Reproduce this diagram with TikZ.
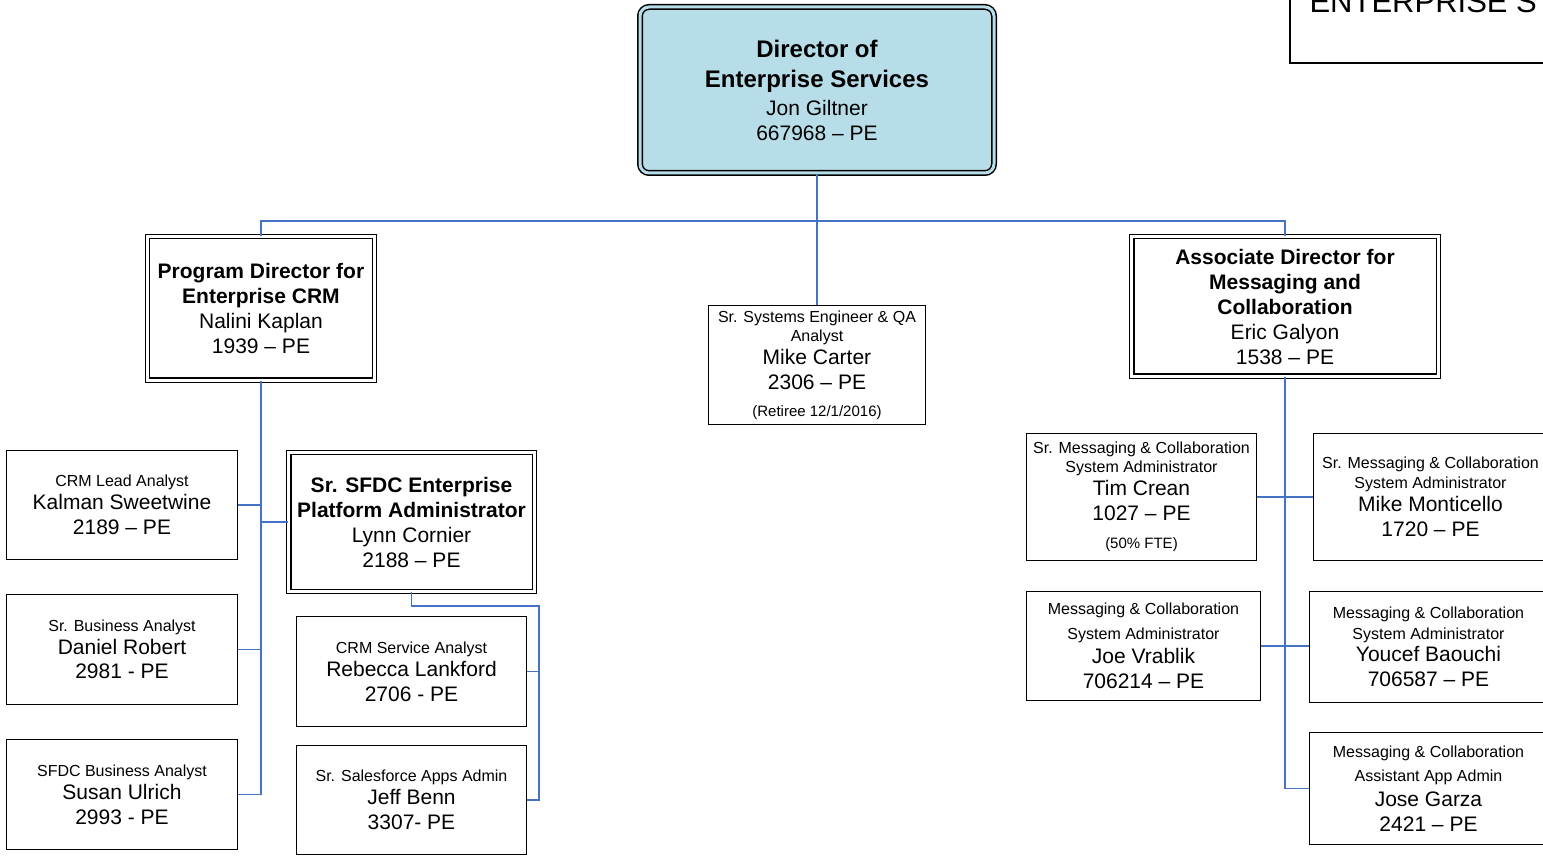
\documentclass[tikz,border=0pt]{standalone}
\usepackage{fontspec}
\setmainfont{Liberation Sans}
\usepackage{tikz}
\definecolor{Kopfblau}{RGB}{183,222,232}
\definecolor{Linienblau}{RGB}{68,114,196}
\newcommand{\Chef}[1]{{\fontsize{24}{29}\selectfont\bfseries #1}}
\newcommand{\Funktion}[1]{{\fontsize{16}{19}\selectfont #1}}
\newcommand{\Klein}[1]{{\fontsize{15}{18}\selectfont #1}}
\tikzstyle{Kasten}= [draw,line width=1.3pt,inner sep=0pt,align=center,font=\fontsize{21}{25}\selectfont]
\tikzstyle{Doppelkasten}= [Kasten,double,line width=1.3pt,double distance=3pt]
\tikzstyle{Linie}= [draw=Linienblau,line width=1.8pt]

\begin{document}
\begin{tikzpicture}[x=1pt,y=-1pt]

		\clip (0,0) rectangle (1543,858);

		% Kopf
		\node [Kasten,line width=1.6pt,minimum width=270pt,minimum height=83pt] (titel) at (1425,21.5) {};
		\node [anchor=base west,font=\fontsize{31}{36}\selectfont] (titeltext) at (1306,13) {ENTERPRISE S};

		\node [Doppelkasten,rounded corners=9pt,fill=Kopfblau,double=Kopfblau,line width=1.5pt,minimum width=354pt,minimum height=166pt] (chef) at (817,90)
		{\Chef{Director of}\\[5pt] \Chef{Enterprise Services}\\[3pt] Jon Giltner\\ 667968 – PE};

		% zweite Ebene
		\node [Doppelkasten,minimum width=227pt,minimum height=143.6pt] (crm) at (261,308.5)
		{\textbf{Program Director for}\\ \textbf{Enterprise CRM}\\ Nalini Kaplan\\ 1939 – PE};
		\node [Kasten,minimum width=216.8pt,minimum height=118.8pt] (carter) at (817,365)
		{\Funktion{Sr. Systems Engineer \& QA}\\[-6pt] \Funktion{Analyst}\\[-2pt] Mike Carter\\ 2306 – PE\\[2pt] \Klein{(Retiree 12/1/2016)}};
		\node [Doppelkasten,minimum width=306.6pt,minimum height=139.6pt] (msg) at (1285,306.5)
		{\textbf{Associate Director for}\\ \textbf{Messaging and}\\ \textbf{Collaboration}\\ Eric Galyon\\ 1538 – PE};

		% CRM
		\node [Kasten,minimum width=230.8pt,minimum height=108.8pt] (kalman) at (122,505)
		{\Funktion{CRM Lead Analyst}\\[-2pt] Kalman Sweetwine\\ 2189 – PE};
		\node [Kasten,minimum width=230.8pt,minimum height=109.8pt] (daniel) at (122,649.5)
		{\Funktion{Sr. Business Analyst}\\[-2pt] Daniel Robert\\[-1pt] 2981 - PE};
		\node [Kasten,minimum width=230.8pt,minimum height=109.8pt] (susan) at (122,794.5)
		{\Funktion{SFDC Business Analyst}\\[-2pt] Susan Ulrich\\ 2993 - PE};
		\node [Doppelkasten,minimum width=245.6pt,minimum height=138.6pt] (lynn) at (411.5,522)
		{\textbf{Sr. SFDC Enterprise}\\ \textbf{Platform Administrator}\\ Lynn Cornier\\ 2188 – PE};
		\node [Kasten,minimum width=229.8pt,minimum height=109.8pt] (rebecca) at (411.5,671.5)
		{\Funktion{CRM Service Analyst}\\[-2pt] Rebecca Lankford\\ 2706 - PE};
		\node [Kasten,minimum width=229.8pt,minimum height=108.8pt] (jeff) at (411.5,800)
		{\Funktion{Sr. Salesforce Apps Admin}\\[-2pt] Jeff Benn\\ 3307- PE};

		% Messaging
		\node [Kasten,minimum width=229.8pt,minimum height=126.8pt] (tim) at (1141.5,497)
		{\Funktion{Sr. Messaging \& Collaboration}\\[-6pt] \Funktion{System Administrator}\\[-2pt] Tim Crean\\ 1027 – PE\\[3pt] \Klein{(50\% FTE)}};
		\node [Kasten,minimum width=233.8pt,minimum height=126.8pt] (monti) at (1430.5,497)
		{\Funktion{Sr. Messaging \& Collaboration}\\[-5pt] \Funktion{System Administrator}\\[-2pt] Mike Monticello\\ 1720 – PE};
		\node [Kasten,minimum width=233.8pt,minimum height=108.8pt] (joe) at (1143.5,646)
		{\Funktion{Messaging \& Collaboration}\\ \Funktion{System Administrator}\\[-1pt] Joe Vrablik\\ 706214 – PE};
		\node [Kasten,minimum width=237.8pt,minimum height=110.8pt] (youcef) at (1428.5,647)
		{\Funktion{Messaging \& Collaboration}\\[-4pt] \Funktion{System Administrator}\\[-3pt] Youcef Baouchi\\ 706587 – PE};
		\node [Kasten,minimum width=237.8pt,minimum height=111.8pt] (jose) at (1428.5,788.5)
		{\Funktion{Messaging \& Collaboration}\\[-1pt] \Funktion{Assistant App Admin}\\ Jose Garza\\ 2421 – PE};

		\coordinate (bus) at (817,221);
		\coordinate (sfdcknick) at (539,606);

		\draw[Linie] (chef.south) -- (carter.north);
		\draw[Linie] (crm.north) |- (bus) -| (msg.north);

		\draw[Linie] (crm.south) -- (crm.south |- susan.east) -- (susan.east);
		\draw[Linie] (kalman.east) -- (kalman.east -| crm.south);
		\draw[Linie] (daniel.east) -- (daniel.east -| crm.south);
		\draw[Linie] (lynn.west) -- (lynn.west -| crm.south);

		\draw[Linie] (lynn.south) |- (sfdcknick) |- (jeff.east);
		\draw[Linie] (rebecca.east) -- (rebecca.east -| sfdcknick);

		\draw[Linie] (msg.south) -- (msg.south |- jose.west) -- (jose.west);
		\draw[Linie] (tim.east) -- (monti.west);
		\draw[Linie] (joe.east) -- (joe.east -| youcef.west);
		;

\end{tikzpicture}
\end{document}
